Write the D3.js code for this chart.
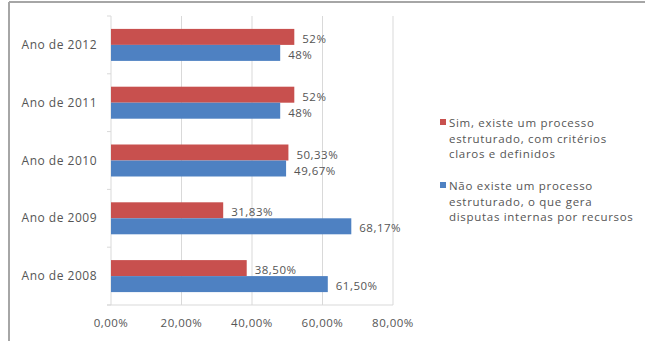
<!DOCTYPE html>
<html>
<head>
<meta charset="utf-8">
<script src="https://cdn.jsdelivr.net/npm/d3@7/dist/d3.min.js"></script>
<style>
  html, body { margin: 0; padding: 0; background: #fff; }
  svg { display: block; }
  text { font-family: "Open Sans", "Liberation Sans", Arial, sans-serif; fill: #555; letter-spacing: 0.5px; }
  .legend text { letter-spacing: 0.7px; }
</style>
</head>
<body>
<svg id="chart" width="645" height="341"></svg>
<script>
// Survey answers per year (percent)
const years = ["Ano de 2012", "Ano de 2011", "Ano de 2010", "Ano de 2009", "Ano de 2008"];
const simValues = [52, 52, 50.33, 31.83, 38.50];
const naoValues = [48, 48, 49.67, 68.17, 61.50];
const simLabels = ["52%", "52%", "50,33%", "31,83%", "38,50%"];
const naoLabels = ["48%", "48%", "49,67%", "68,17%", "61,50%"];
const xTicks = [0, 20, 40, 60, 80];
const xTickLabels = ["0,00%", "20,00%", "40,00%", "60,00%", "80,00%"];
const seriesNames = [
  ["Sim, existe um processo", "estruturado, com critérios", "claros e definidos"],
  ["Não existe um processo", "estruturado, o que gera", "disputas internas por recursos"]
];
const colors = ["#c8504e", "#4e81c2"];

const svg = d3.select("#chart");

// outer frame: top and left edges
svg.append("line").attr("x1", 9).attr("x2", 645).attr("y1", 2).attr("y2", 2)
  .attr("stroke", "#a6a6a6").attr("stroke-width", 2);
svg.append("line").attr("x1", 9).attr("x2", 9).attr("y1", 2).attr("y2", 341)
  .attr("stroke", "#a6a6a6").attr("stroke-width", 2);

const plot = { left: 111, right: 393, top: 16, bottom: 305 };

const x = d3.scaleLinear().domain([0, 80]).range([plot.left, plot.right]);
const y = d3.scaleBand().domain(years).range([plot.top, plot.bottom]).paddingInner(0).paddingOuter(0);
const barH = 16;

// vertical gridlines
svg.append("g").selectAll("line").data(xTicks.slice(1)).join("line")
  .attr("x1", d => x(d)).attr("x2", d => x(d))
  .attr("y1", plot.top).attr("y2", plot.bottom)
  .attr("stroke", "#d9d9d9").attr("stroke-width", 1);

// category axis with tick marks between categories
svg.append("line").attr("x1", plot.left).attr("x2", plot.left)
  .attr("y1", plot.top).attr("y2", plot.bottom)
  .attr("stroke", "#d9d9d9");
const bounds = d3.range(years.length + 1).map(i => plot.top + i * y.step());
svg.append("g").selectAll("line").data(bounds).join("line")
  .attr("x1", plot.left - 4).attr("x2", plot.left)
  .attr("y1", d => d).attr("y2", d => d)
  .attr("stroke", "#d9d9d9");

// value axis line at bottom
svg.append("line").attr("x1", plot.left - 4).attr("x2", plot.right)
  .attr("y1", plot.bottom).attr("y2", plot.bottom)
  .attr("stroke", "#d9d9d9");

// x tick labels
svg.append("g").selectAll("text").data(xTicks).join("text")
  .attr("x", d => x(d)).attr("y", 327)
  .attr("text-anchor", "middle").attr("font-size", 11.5)
  .text((d, i) => xTickLabels[i]);

// y labels
svg.append("g").selectAll("text").data(years).join("text")
  .attr("x", 97).attr("y", d => y(d) + y.bandwidth() / 2 + 4)
  .attr("text-anchor", "end").attr("font-size", 12)
  .text(d => d);

// bars
const groupTop = d => y(d) + (y.bandwidth() - 2 * barH) / 2;
const series = [
  { values: simValues, labels: simLabels, offset: 0, color: colors[0] },
  { values: naoValues, labels: naoLabels, offset: barH, color: colors[1] }
];
series.forEach(s => {
  svg.append("g").selectAll("rect").data(years).join("rect")
    .attr("x", x(0))
    .attr("y", d => groupTop(d) + s.offset)
    .attr("width", (d, i) => x(s.values[i]) - x(0))
    .attr("height", barH)
    .attr("fill", s.color);
  svg.append("g").selectAll("text").data(years).join("text")
    .attr("x", (d, i) => x(s.values[i]) + 8)
    .attr("y", d => groupTop(d) + s.offset + barH / 2 + 6)
    .attr("font-size", 11.5)
    .text((d, i) => s.labels[i]);
});

// legend
const legend = svg.append("g").attr("class", "legend");
const legendTops = [127, 190];
seriesNames.forEach((lines, i) => {
  legend.append("rect").attr("x", 440).attr("y", legendTops[i] - 8)
    .attr("width", 6).attr("height", 6).attr("fill", colors[i]);
  legend.append("g").selectAll("text").data(lines).join("text")
    .attr("x", 449).attr("y", (d, j) => legendTops[i] + j * 15.6)
    .attr("font-size", 11.5)
    .text(d => d);
});
</script>
</body>
</html>
